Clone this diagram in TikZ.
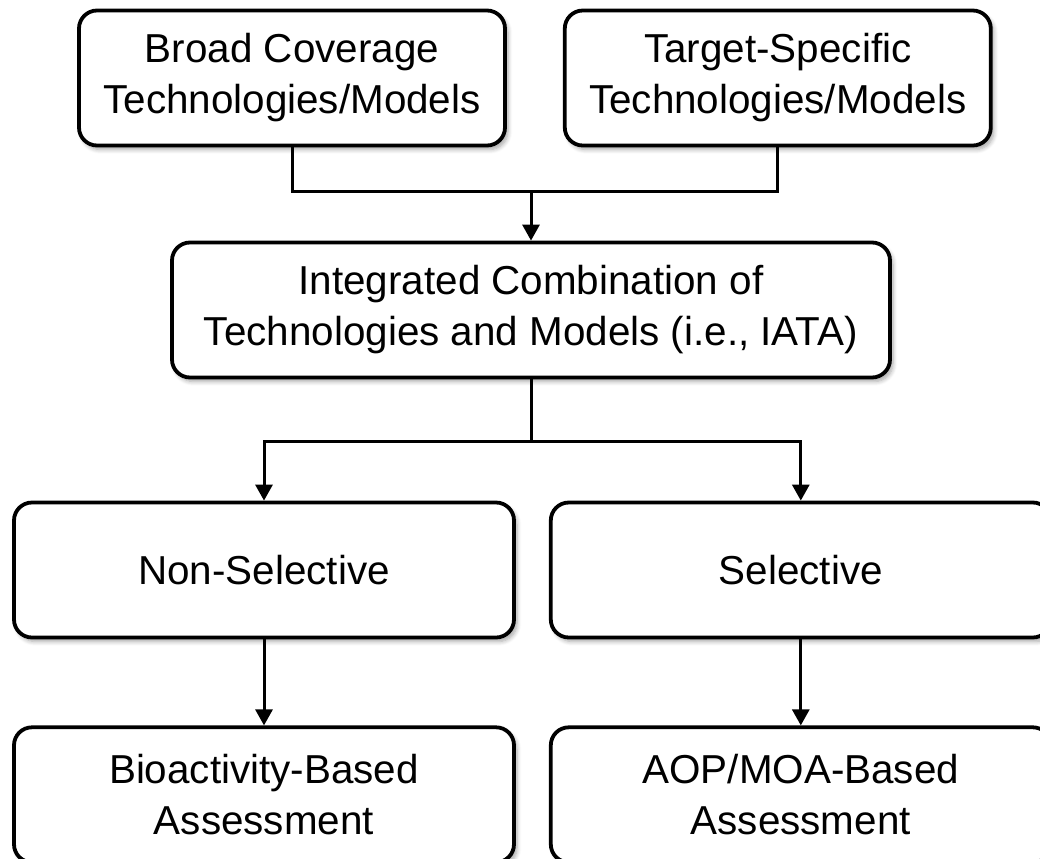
\documentclass[tikz,border=0pt]{standalone}
\usepackage{fontspec}
\setmainfont{Liberation Sans}
\usetikzlibrary{positioning,arrows.meta,shadows.blur}

\tikzset{
  box/.style={draw, line width=1.9pt, rounded corners=9pt, fill=white,
    align=center, minimum height=67.5pt, inner sep=0pt,
    font=\fontsize{20.2}{25.5}\selectfont,
    blur shadow={shadow xshift=1.5pt, shadow yshift=-2pt, shadow blur steps=6, shadow opacity=35}},
  link/.style={line width=1.5pt},
  arrow/.style={link, -{Triangle[length=8pt,width=8.5pt]}}
}

\begin{document}
\begin{tikzpicture}

\useasboundingbox (0pt,0pt) rectangle (520pt,-429pt);

  % Define nodes
\node[box, minimum width=213pt] at (146pt,-39pt)   (bcm) {Broad Coverage\\Technologies/Models};
\node[box, minimum width=213pt, right=28pt of bcm] (tsm) {Target-Specific\\Technologies/Models};
\node[box, minimum width=359pt] at (265.5pt,-155pt) (icm) {Integrated Combination of\\Technologies and Models (i.e., IATA)};
\node[box, minimum width=250pt] at (132pt,-285pt)   (nsel) {Non-Selective};
\node[box, minimum width=250pt, right=16.5pt of nsel] (sel) {Selective};
\node[box, minimum width=250pt, below=43pt of nsel] (bioa) {Bioactivity-Based\\Assessment};
\node[box, minimum width=250pt, below=43pt of sel]  (aopa) {AOP/MOA-Based\\Assessment};

  % Junctions
\coordinate[above=24.5pt of icm.north] (jt);
\coordinate[below=31pt of icm.south]   (js);

  % Connect the nodes
\draw[link] (bcm.south) |- (jt) -| (tsm.south);
\draw[arrow] (jt) -- (icm.north);
\draw[link] (icm.south) -- (js);
\draw[arrow] (js) -| (nsel.north);
\draw[arrow] (js) -| (sel.north);
\draw[arrow] (nsel) -- (bioa);
\draw[arrow] (sel) -- (aopa);

\end{tikzpicture}
\end{document}
